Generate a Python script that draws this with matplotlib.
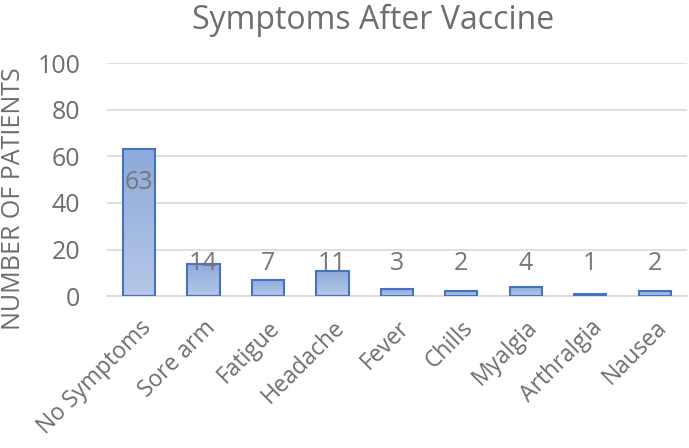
import numpy as np
import matplotlib.pyplot as plt
from matplotlib.colors import LinearSegmentedColormap

categories = ["No Symptoms", "Sore arm", "Fatigue", "Headache", "Fever",
              "Chills", "Myalgia", "Arthralgia", "Nausea"]
patients = [63, 14, 7, 11, 3, 2, 4, 1, 2]

plt.rcParams['font.family'] = ['Open Sans', 'DejaVu Sans']
grey = '#6d6d6d'

fig = plt.figure(figsize=(6.89, 4.48), dpi=100)
ax = fig.add_axes([0.155, 0.339, 0.842, 0.52])

x = np.arange(len(categories))
bars = ax.bar(x, patients, width=0.5, facecolor='none', edgecolor='#4472c4',
              linewidth=1.5, zorder=3)

# gradient fill inside each bar
cmap = LinearSegmentedColormap.from_list('g', ['#b4c7e7', '#8eaadb'])
grad = np.linspace(0, 1, 100).reshape(-1, 1)
for b in bars:
    bx, by = b.get_x(), b.get_y()
    w, h = b.get_width(), b.get_height()
    im = ax.imshow(grad, cmap=cmap, origin='lower', aspect='auto',
                   extent=[bx, bx + w, by, by + h], zorder=2)
    im.set_clip_path(b)

for xi, v in zip(x, patients):
    ly = max(v - 14.3, 13.8)
    ax.text(xi, ly, str(v), ha='center', va='center', fontsize=18,
            color='#767676', zorder=4)

ax.set_xlim(-0.5, len(categories) - 0.5)
ax.set_ylim(0, 100)
ax.set_yticks(range(0, 101, 20))
ax.yaxis.grid(True, color='#d9d9d9', linewidth=1.2, zorder=0)
ax.set_axisbelow(True)
for s in ['top', 'right', 'left']:
    ax.spines[s].set_visible(False)
ax.spines['bottom'].set_color('#d9d9d9')
ax.spines['bottom'].set_linewidth(1.2)
ax.tick_params(length=0, colors=grey, labelsize=18)
ax.tick_params(axis='y', pad=19)
ax.set_xticks(x)
ax.set_xticklabels(categories, rotation=45, ha='right', rotation_mode='anchor',
                   fontsize=16.5)
ax.tick_params(axis='x', pad=14)
ax.set_ylabel('NUMBER OF PATIENTS', color=grey, fontsize=18)
ax.yaxis.set_label_coords(-0.14, 0.42)
fig.text(0.542, 0.955, 'Symptoms After Vaccine', color=grey, fontsize=23,
         ha='center', va='center')

fig.savefig('out.png', dpi=100)
